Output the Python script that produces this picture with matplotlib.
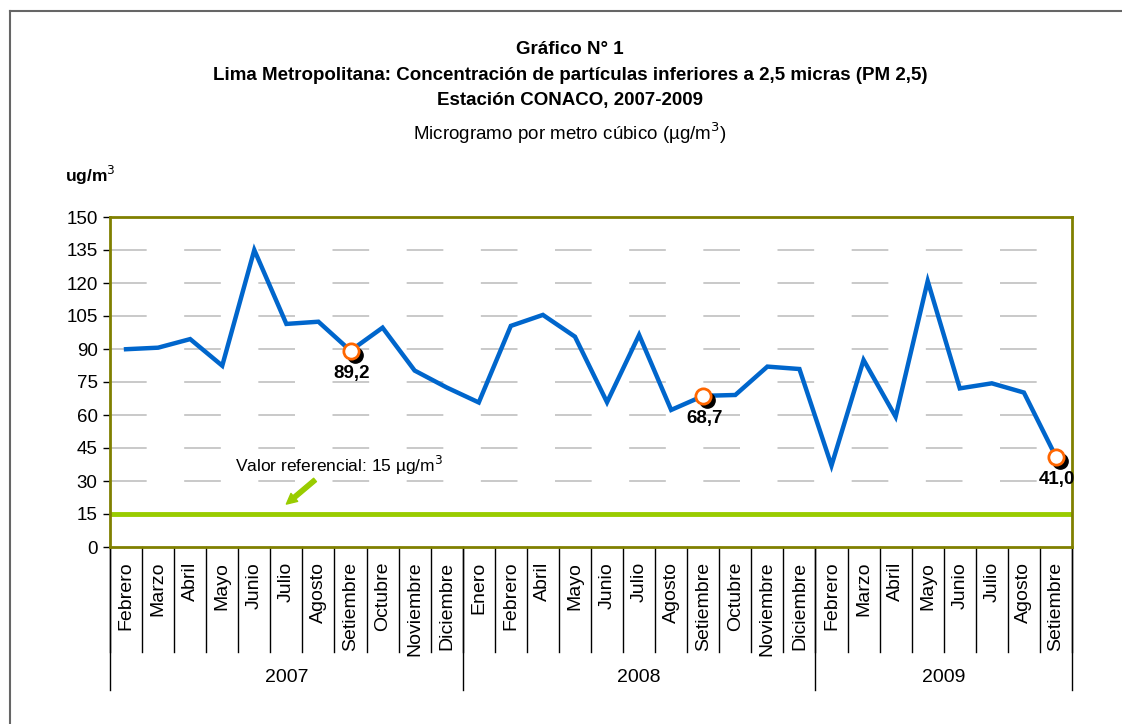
import numpy as np
import matplotlib.pyplot as plt
from matplotlib import transforms
from matplotlib.lines import Line2D

plt.rcParams['font.family'] = ['Liberation Sans', 'DejaVu Sans']
narrow = ['Liberation Sans Narrow', 'Liberation Sans', 'DejaVu Sans']

meses = ['Febrero', 'Marzo', 'Abril', 'Mayo', 'Junio', 'Julio', 'Agosto', 'Setiembre', 'Octubre', 'Noviembre', 'Diciembre',
         'Enero', 'Febrero', 'Abril', 'Mayo', 'Junio', 'Julio', 'Agosto', 'Setiembre', 'Octubre', 'Noviembre', 'Diciembre',
         'Febrero', 'Marzo', 'Abril', 'Mayo', 'Junio', 'Julio', 'Agosto', 'Setiembre']
anios = ['2007', '2008', '2009']
meses_por_anio = [11, 11, 8]
pm25 = [89.9, 90.6, 94.5, 82.4, 135.0, 101.4, 102.4, 89.2, 99.7, 80.2, 72.5,
        65.7, 100.5, 105.5, 95.6, 65.8, 96.4, 62.3, 68.7, 69.1, 82.0, 80.9,
        37.0, 85.0, 59.2, 120.9, 72.1, 74.4, 70.2, 41.0]
resaltados = [7, 18, 29]
valor_ref = 15

fig = plt.figure(figsize=(11.22, 7.24), dpi=100)
ax = fig.add_axes([110/1122, 1 - 547/724, 962/1122, 330/724])

x = np.arange(len(pm25))

# grilla punteada
for v in range(15, 150, 15):
    ax.axhline(v, color='#c0c0c0', lw=1.2, dashes=(22, 22.5), zorder=0)

ax.axhline(valor_ref, color='#99cc00', lw=3.5, zorder=2)
ax.plot(x, pm25, color='#0066cc', lw=3.2, zorder=3, solid_joinstyle='miter')

sombra = transforms.offset_copy(ax.transData, fig=fig, x=4, y=-4, units='dots')
for i in resaltados:
    ax.plot(x[i], pm25[i], 'o', ms=11, color='black', transform=sombra, zorder=4)
    ax.plot(x[i], pm25[i], 'o', ms=11, mfc='white', mec='#ff6600', mew=2, zorder=5)
    ax.annotate(f'{pm25[i]:.1f}'.replace('.', ','), (x[i], pm25[i]), xytext=(1, -16.5),
                textcoords='offset points', ha='center', va='center',
                fontsize=13.5, fontweight='bold', zorder=6)

ax.annotate('Valor referencial: 15 µg/m$^3$', xy=(5.0, 19.5), xytext=(3.4, 37),
            fontsize=12.5, family=narrow, ha='left', va='center',
            arrowprops=dict(arrowstyle='simple,head_length=0.6,head_width=0.6,tail_width=0.25',
                            color='#99cc00', shrinkA=0, shrinkB=0,
                            relpos=(0.4, 0.0)))

ax.set_xlim(-0.5, len(pm25) - 0.5)
ax.set_ylim(0, 150)
ax.set_yticks(range(0, 151, 15))
ax.tick_params(axis='y', labelsize=13.5, length=5, width=1, color='black', pad=4)
ax.set_xticks([])
for s in ax.spines.values():
    s.set_color('#808000')
    s.set_linewidth(2)

# eje x en dos niveles
tr = transforms.blended_transform_factory(ax.transData, ax.transAxes)
for i in range(len(pm25) + 1):
    ax.add_line(Line2D([i - 0.5, i - 0.5], [0, -0.318], color='black', lw=1, transform=tr, clip_on=False))
for i, m in enumerate(meses):
    ax.text(i, -0.045, m, transform=tr, rotation=90, ha='center', va='top', fontsize=14)

inicio = 0
for anio, n in zip(anios, meses_por_anio):
    ax.add_line(Line2D([inicio - 0.5, inicio - 0.5], [0, -0.433], color='black', lw=1, transform=tr, clip_on=False))
    ax.text(inicio - 0.5 + n / 2, -0.394, anio, transform=tr, ha='center', va='center', fontsize=14)
    inicio += n
ax.add_line(Line2D([inicio - 0.5, inicio - 0.5], [0, -0.433], color='black', lw=1, transform=tr, clip_on=False))

# titulos
fig.text(570/1122, 1 - 50/724, 'Gráfico N° 1', ha='center', va='center', fontsize=13.5, fontweight='bold', family=narrow)
fig.text(570/1122, 1 - 75/724, 'Lima Metropolitana: Concentración de partículas inferiores a 2,5 micras (PM 2,5)',
         ha='center', va='center', fontsize=13.5, fontweight='bold', family=narrow)
fig.text(570/1122, 1 - 100/724, 'Estación CONACO, 2007-2009', ha='center', va='center', fontsize=13.5, fontweight='bold', family=narrow)
fig.text(570/1122, 1 - 133/724, 'Microgramo por metro cúbico (µg/m$^3$)', ha='center', va='center', fontsize=13.5, family=narrow)
fig.text(65/1122, 1 - 175/724, 'ug/m$^3$', ha='left', va='center', fontsize=12.5, fontweight='bold', family=narrow)

# marco exterior
fig.add_artist(Line2D([10/1122, 10/1122], [0, 1 - 11/724], color='#666666', lw=1.5, transform=fig.transFigure))
fig.add_artist(Line2D([10/1122, 1], [1 - 11/724, 1 - 11/724], color='#666666', lw=1.5, transform=fig.transFigure))

fig.savefig('out.png', dpi=100)
